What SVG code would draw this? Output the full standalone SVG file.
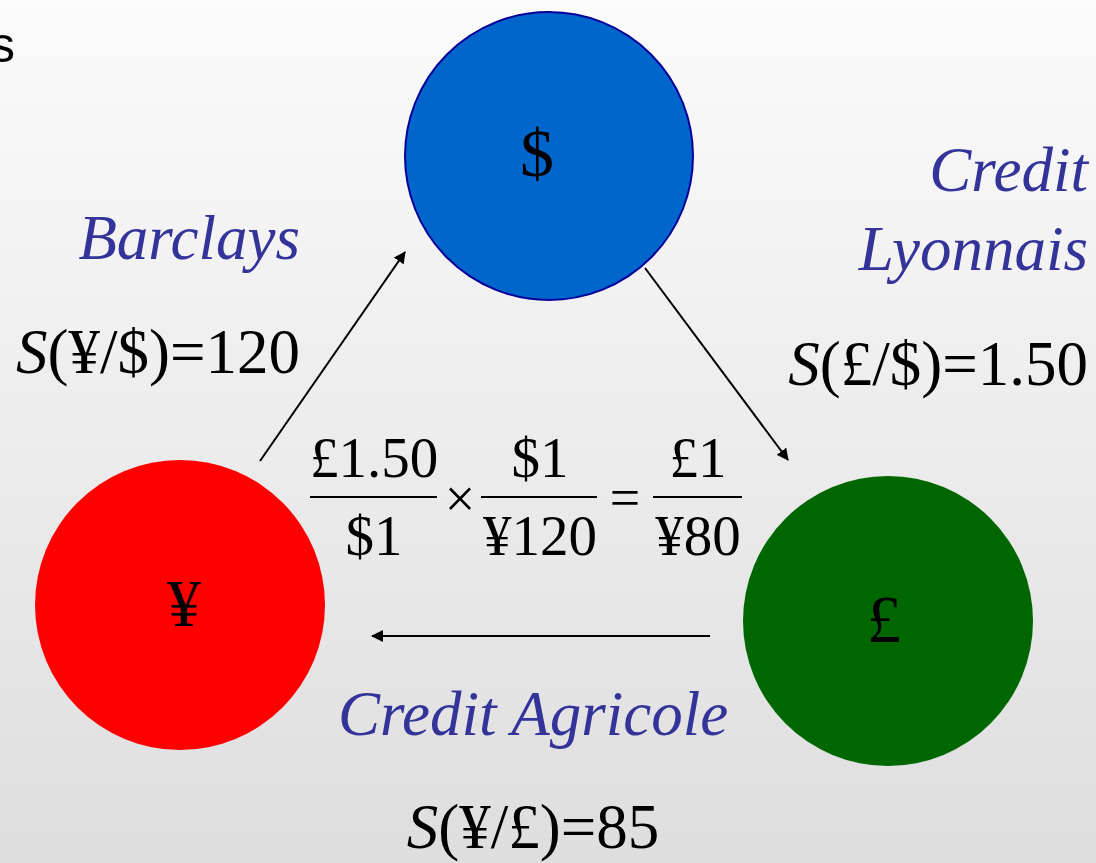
<svg xmlns="http://www.w3.org/2000/svg" width="1096" height="863" viewBox="0 0 1096 863">
<defs>
<linearGradient id="bg" x1="0" y1="0" x2="0" y2="1">
<stop offset="0" stop-color="#fbfbfb"/>
<stop offset="1" stop-color="#dedede"/>
</linearGradient>
<marker id="ah" markerWidth="12" markerHeight="12" refX="11" refY="6" orient="auto" markerUnits="userSpaceOnUse" viewBox="0 0 12 12">
<path d="M0,0 L12,6 L0,12 z" fill="#000"/>
</marker>
<style>
.t{font-family:"Liberation Serif","Times New Roman",serif;font-size:63px;fill:#000}
.f{font-family:"Liberation Serif","Times New Roman",serif;font-size:57px;fill:#000;text-anchor:middle}
.b{font-family:"Liberation Serif","Times New Roman",serif;font-size:63px;font-style:italic;fill:#333399}
.i{font-style:italic}
.c{font-family:"Liberation Serif","Times New Roman",serif;font-size:68px;fill:#000;text-anchor:middle}
.conn{stroke:#000;stroke-width:2;fill:none;marker-end:url(#ah)}
.fl{stroke:#000;stroke-width:2}
</style>
</defs>
<rect width="1096" height="863" fill="url(#bg)"/>
<text x="-10" y="62" style="font-family:'Liberation Sans',Arial,sans-serif;font-size:50px">s</text>
<g id="node-usd">
<circle cx="549" cy="156" r="144" fill="#0066cc" stroke="#000099" stroke-width="2"/>
<text class="c" x="537" y="176">$</text>
</g>
<g id="node-jpy">
<circle cx="180" cy="605" r="145" fill="#ff0000"/>
<text class="c" x="184" y="626">¥</text>
</g>
<g id="node-gbp">
<circle cx="888" cy="621" r="145" fill="#006600"/>
<text class="c" x="884" y="642">£</text>
</g>
<g id="connectors">
<line class="conn" x1="260" y1="461" x2="405" y2="252"/>
<line class="conn" x1="645" y1="268" x2="788" y2="460"/>
<line class="conn" x1="710" y1="636" x2="372" y2="636"/>
</g>
<g id="labels">
<text class="b" x="300" y="259" text-anchor="end">Barclays</text>
<text class="t" x="300" y="373" text-anchor="end"><tspan class="i">S</tspan>(¥/$)=120</text>
<text class="b" x="1088" y="191" text-anchor="end">Credit</text>
<text class="b" x="1088" y="270" text-anchor="end">Lyonnais</text>
<text class="t" x="1088" y="385" text-anchor="end"><tspan class="i">S</tspan>(£/$)=1.50</text>
<text class="b" x="533" y="735" text-anchor="middle">Credit Agricole</text>
<text class="t" x="533" y="848" text-anchor="middle"><tspan class="i">S</tspan>(¥/£)=85</text>
</g>
<g id="equation">
<text class="f" x="374" y="477">£1.50</text>
<line class="fl" x1="310" y1="497" x2="437" y2="497"/>
<text class="f" x="374" y="555">$1</text>
<text class="f" x="460" y="517" style="font-size:54px">×</text>
<text class="f" x="540" y="477">$1</text>
<line class="fl" x1="481" y1="497" x2="597" y2="497"/>
<text class="f" x="540" y="555">¥120</text>
<text class="f" x="625" y="516" style="font-size:54px">=</text>
<text class="f" x="698" y="477">£1</text>
<line class="fl" x1="653" y1="497" x2="742" y2="497"/>
<text class="f" x="698" y="555">¥80</text>
</g>
</svg>
